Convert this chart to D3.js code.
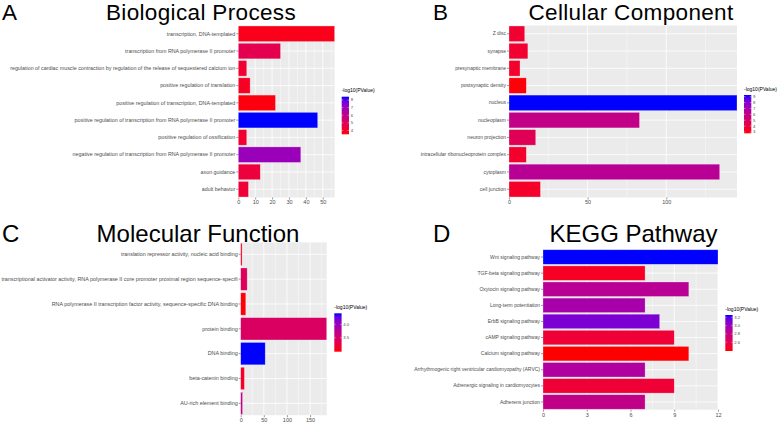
<!DOCTYPE html>
<html><head><meta charset="utf-8">
<script src="https://cdn.jsdelivr.net/npm/d3@7"></script>
<style>
html,body{margin:0;padding:0;background:#fff;}
svg{display:block;font-family:"Liberation Sans",Arial,sans-serif;}
</style></head>
<body><svg id="chart" width="778" height="422"></svg>
<script>
// ---------- DATA ----------
const bpTerms = ["transcription, DNA-templated","transcription from RNA polymerase II promoter","regulation of cardiac muscle contraction by regulation of the release of sequestered calcium ion","positive regulation of translation","positive regulation of transcription, DNA-templated","positive regulation of transcription from RNA polymerase II promoter","positive regulation of ossification","negative regulation of transcription from RNA polymerase II promoter","axon guidance","adult behavior"];
const bpCounts = [57,25,5,7,22,47,5,37,13,6];
const bpLogP = [3.75,4.7,4.1,3.9,3.6,8.43,4.1,7.0,4.35,4.2];
const bpTicks = [0,10,20,30,40,50];
const bpLegendTicks = [4,5,6,7,8];

const ccTerms = ["Z disc","synapse","presynaptic membrane","postsynaptic density","nucleus","nucleoplasm","neuron projection","intracellular ribonucleoprotein complex","cytoplasm","cell junction"];
const ccCounts = [10,12,7,11,145,83,17,11,134,20];
const ccLogP = [3.6,3.6,3.5,2.85,9.29,6.0,4.6,3.5,6.4,3.45];
const ccTicks = [0,50,100];
const ccLegendTicks = [3,4,5,6,7,8,9];

const mfTerms = ["translation repressor activity, nucleic acid binding","transcriptional activator activity, RNA polymerase II core promoter proximal region sequence-specifi","RNA polymerase II transcription factor activity, sequence-specific DNA binding","protein binding","DNA binding","beta-catenin binding","AU-rich element binding"];
const mfCounts = [3,14,11,186,53,8,4];
const mfLogP = [3.12,3.41,3.0,3.45,4.41,3.12,3.65];
const mfTicks = [0,50,100,150];
const mfLegendTicks = [3.5,4.0];

const keggTerms = ["Wnt signaling pathway","TGF-beta signaling pathway","Oxytocin signaling pathway","Long-term potentiation","ErbB signaling pathway","cAMP signaling pathway","Calcium signaling pathway","Arrhythmogenic right ventricular cardiomyopathy (ARVC)","Adrenergic signaling in cardiomyocytes","Adherens junction"];
const keggCounts = [12,7,10,7,8,9,10,7,9,7];
const keggLogP = [3.255,2.46,2.87,2.95,3.1,2.52,2.39,2.91,2.52,2.82];
const keggTicks = [0,3,6,9,12];
const keggLegendTicks = [2.6,2.8,3.0,3.2];

// ---------- LAYOUT ----------
const panels = [
  {letter:"A", title:"Biological Process", terms:bpTerms, counts:bpCounts, logp:bpLogP, ticks:bpTicks, lticks:bpLegendTicks,
   xmax:57, cdom:[3.5,8.43], x0:238.3, x1:334.6, y0:25.5, y1:197.5, letterX:2, titleX:201, baseY:20.4, tsize:22.5, tls:0.35, lsize:5.35,
   lx:341.7, ly0:96.7, ly1:134.3, fmt:d3.format("d")},
  {letter:"B", title:"Cellular Component", terms:ccTerms, counts:ccCounts, logp:ccLogP, ticks:ccTicks, lticks:ccLegendTicks,
   xmax:145, cdom:[2.78,9.29], x0:509, x1:737, y0:25.5, y1:197.5, letterX:433, titleX:631, baseY:20.4, tsize:22.5, tls:0.35, lsize:5,
   lx:744, ly0:95, ly1:133.3, fmt:d3.format("d")},
  {letter:"C", title:"Molecular Function", terms:mfTerms, counts:mfCounts, logp:mfLogP, ticks:mfTicks, lticks:mfLegendTicks,
   xmax:186, cdom:[2.98,4.41], x0:240.7, x1:326.7, y0:242.4, y1:415.2, letterX:2, titleX:198, baseY:241.5, tsize:24, tls:0, lsize:5.4,
   lx:334.3, ly0:313.3, ly1:351.7, fmt:d3.format(".1f")},
  {letter:"D", title:"KEGG Pathway", terms:keggTerms, counts:keggCounts, logp:keggLogP, ticks:keggTicks, lticks:keggLegendTicks,
   xmax:12, cdom:[2.39,3.255], x0:543, x1:718, y0:249.3, y1:409.7, letterX:433, titleX:633.5, baseY:241.5, tsize:24, tls:0, lsize:5,
   lx:725.3, ly0:315, ly1:351, fmt:d3.format(".1f")}
];

const svg = d3.select("#chart");
const interp = d3.interpolateLab("red","blue");
const defs = svg.append("defs");

panels.forEach((p,pi)=>{
  const g = svg.append("g");
  const x = d3.scaleLinear().domain([0,p.xmax]).range([p.x0,p.x1]);
  const y = d3.scaleBand().domain(p.terms).range([p.y0,p.y1]).paddingInner(0.1).paddingOuter(0.03);
  const color = d3.scaleSequential(interp).domain(p.cdom);

  // letter and title
  g.append("text").attr("x",p.letterX).attr("y",p.baseY).attr("font-size",p.tsize).attr("fill","#000").text(p.letter);
  g.append("text").attr("x",p.titleX).attr("y",p.baseY).attr("font-size",p.tsize).attr("letter-spacing",p.tls)
    .attr("text-anchor","middle").attr("fill","#000").text(p.title);

  // panel background
  g.append("rect").attr("x",p.x0).attr("y",p.y0).attr("width",p.x1-p.x0).attr("height",p.y1-p.y0).attr("fill","#EBEBEB");

  // minor gridlines
  const step = p.ticks[1]-p.ticks[0];
  const minors = p.ticks.map(t=>t+step/2).filter(v=>v<=p.xmax);
  g.selectAll(".minor").data(minors).enter().append("line")
    .attr("x1",d=>x(d)).attr("x2",d=>x(d)).attr("y1",p.y0).attr("y2",p.y1)
    .attr("stroke","#fff").attr("stroke-width",0.4);
  // major gridlines vertical
  g.selectAll(".major").data(p.ticks).enter().append("line")
    .attr("x1",d=>x(d)).attr("x2",d=>x(d)).attr("y1",p.y0).attr("y2",p.y1)
    .attr("stroke","#fff").attr("stroke-width",0.8);
  // major gridlines horizontal
  g.selectAll(".hmajor").data(p.terms).enter().append("line")
    .attr("x1",p.x0).attr("x2",p.x1).attr("y1",d=>y(d)+y.bandwidth()/2).attr("y2",d=>y(d)+y.bandwidth()/2)
    .attr("stroke","#fff").attr("stroke-width",0.8);

  // bars
  g.selectAll(".bar").data(p.terms).enter().append("rect")
    .attr("x",x(0)).attr("y",d=>y(d))
    .attr("width",(d,i)=>x(p.counts[i])-x(0)).attr("height",y.bandwidth())
    .attr("fill",(d,i)=>color(p.logp[i]))
    .attr("stroke","rgba(255,255,255,0.45)").attr("stroke-width",0.6);

  // y axis
  const ya = d3.axisLeft(y).tickSize(2).tickPadding(1);
  const yg = g.append("g").attr("transform",`translate(${p.x0},0)`).call(ya);
  yg.select(".domain").remove();
  yg.selectAll("line").attr("stroke","#333").attr("stroke-width",0.5);
  yg.selectAll("text").attr("font-size",p.lsize).attr("fill","#4D4D4D").attr("font-family","Liberation Sans, Arial, sans-serif");

  // x axis
  const xa = d3.axisBottom(x).tickValues(p.ticks).tickSize(2).tickPadding(1).tickFormat(d3.format("d"));
  const xg = g.append("g").attr("transform",`translate(0,${p.y1})`).call(xa);
  xg.select(".domain").remove();
  xg.selectAll("line").attr("stroke","#333").attr("stroke-width",0.5);
  xg.selectAll("text").attr("font-size",5.5).attr("fill","#4D4D4D").attr("font-family","Liberation Sans, Arial, sans-serif");

  // legend
  const gid = "grad"+pi;
  const grad = defs.append("linearGradient").attr("id",gid).attr("x1",0).attr("x2",0).attr("y1",1).attr("y2",0);
  d3.range(0,1.0001,0.1).forEach(t=>{
    grad.append("stop").attr("offset",t).attr("stop-color",interp(t));
  });
  g.append("text").attr("x",p.lx).attr("y",p.ly0-4.5).attr("font-size",5).attr("fill","#000").text("-log10(PValue)");
  g.append("rect").attr("x",p.lx).attr("y",p.ly0).attr("width",7.3).attr("height",p.ly1-p.ly0).attr("fill",`url(#${gid})`);
  const ls = d3.scaleLinear().domain(p.cdom).range([p.ly1,p.ly0]);
  g.selectAll(".lt").data(p.lticks).enter().append("line")
    .attr("x1",p.lx).attr("x2",p.lx+1.5).attr("y1",d=>ls(d)).attr("y2",d=>ls(d)).attr("stroke","#fff").attr("stroke-width",0.4);
  g.selectAll(".lt2").data(p.lticks).enter().append("line")
    .attr("x1",p.lx+5.8).attr("x2",p.lx+7.3).attr("y1",d=>ls(d)).attr("y2",d=>ls(d)).attr("stroke","#fff").attr("stroke-width",0.4);
  g.selectAll(".ll").data(p.lticks).enter().append("text")
    .attr("x",p.lx+9).attr("y",d=>ls(d)).attr("dy","0.35em").attr("font-size",4.2).attr("fill","#4D4D4D")
    .text(d=>p.fmt(d));
});
</script></body></html>
